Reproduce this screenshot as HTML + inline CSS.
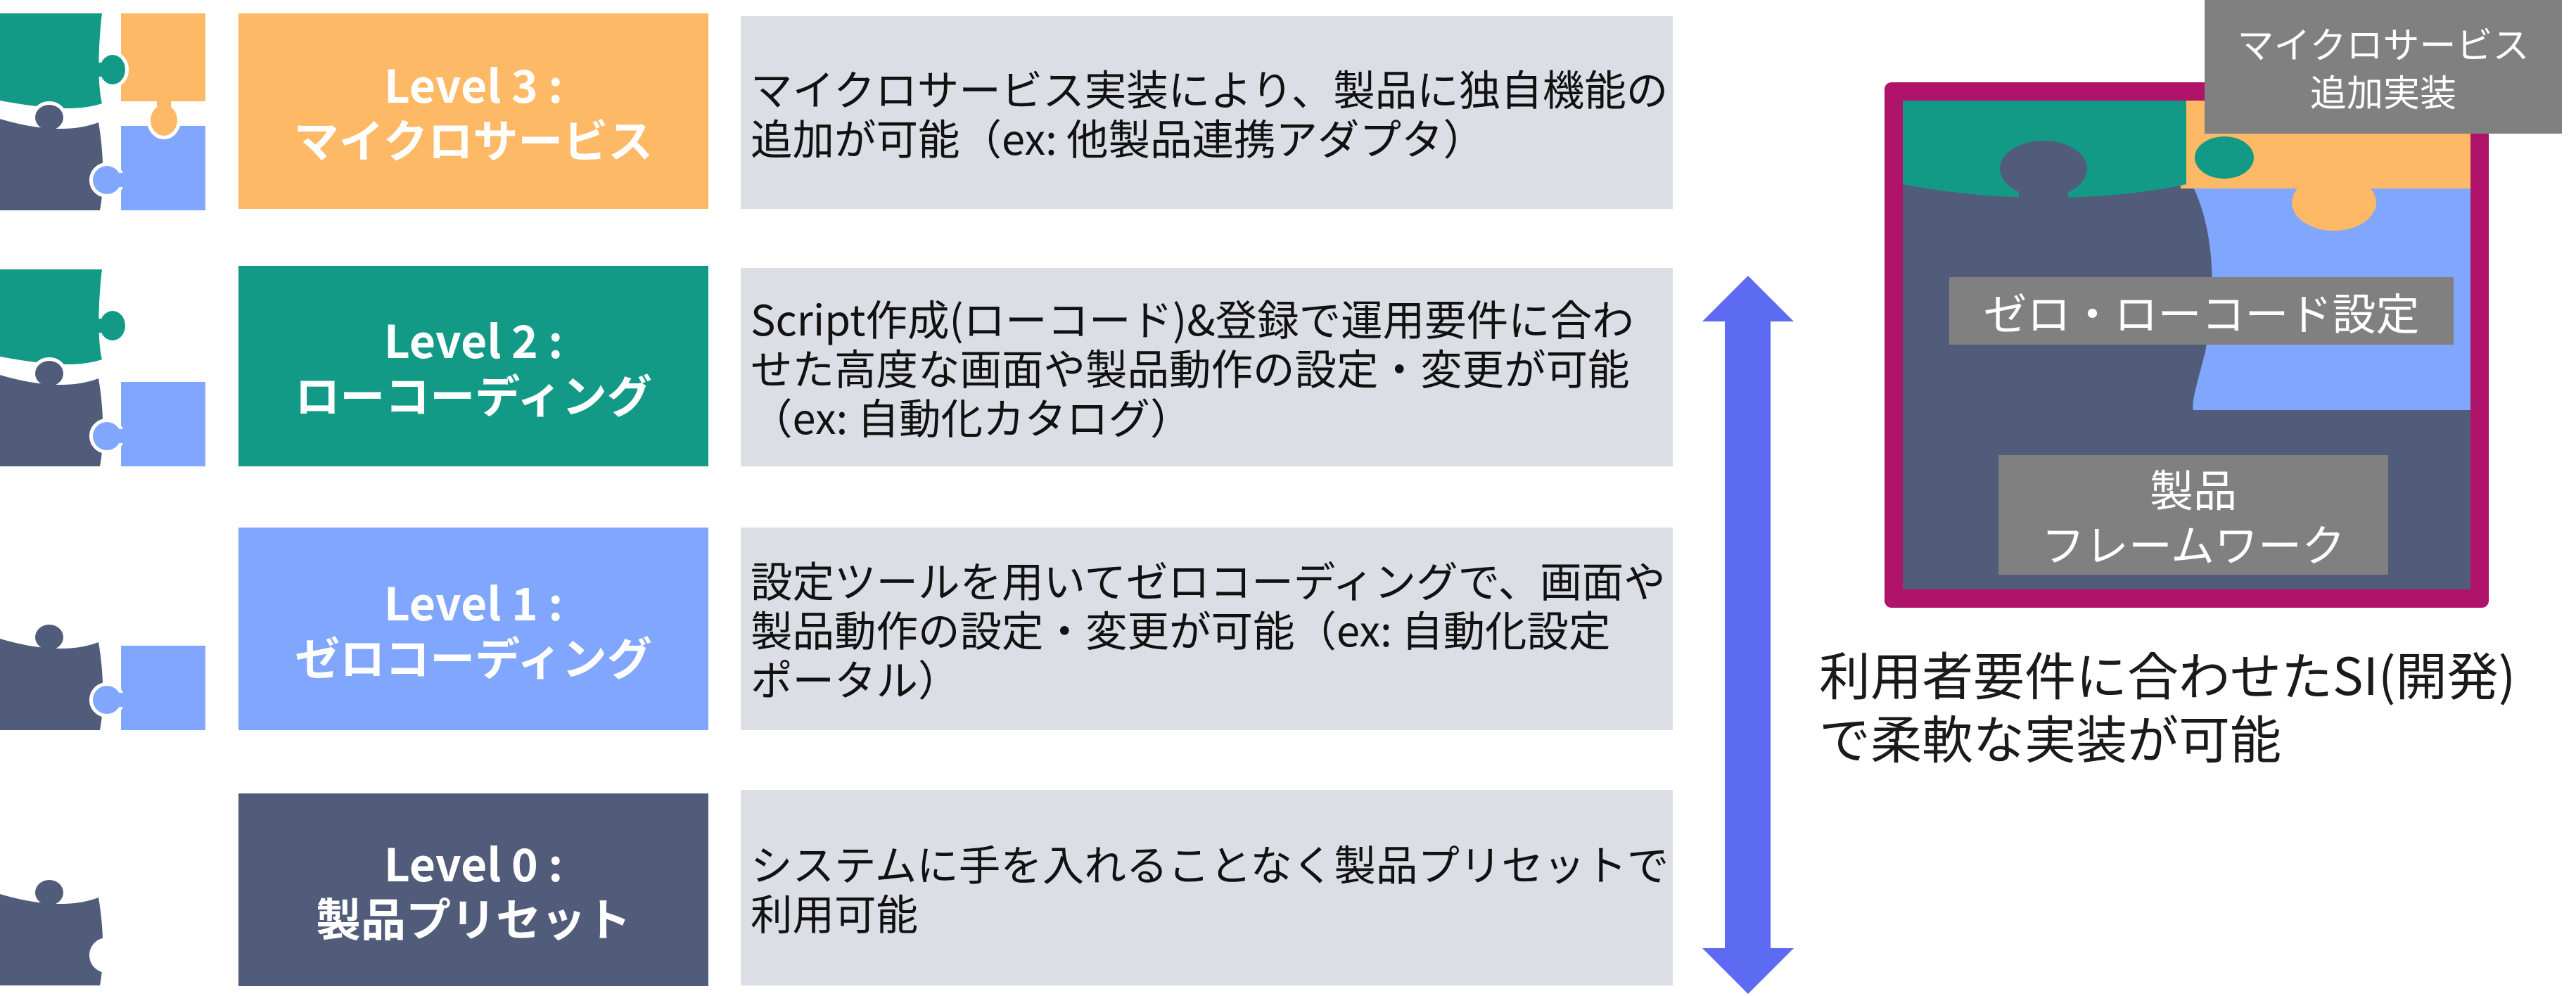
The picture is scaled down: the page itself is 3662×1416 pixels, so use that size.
<!DOCTYPE html>
<html><head><meta charset="utf-8"><style>
html,body{margin:0;padding:0;background:#fff}
body{width:3662px;height:1416px;position:relative;overflow:hidden;font-family:"Noto Sans CJK JP","Liberation Sans",sans-serif}
.lv{position:absolute;left:339px;width:668px;display:flex;align-items:center;justify-content:center;text-align:center;color:#fff;font-weight:bold;font-size:64px;line-height:78px}
.ds{position:absolute;left:1053px;width:1325px;background:#dcdee5;display:flex;align-items:center;box-sizing:border-box;padding-left:14px;font-size:59.5px;line-height:70px;color:#111;white-space:nowrap}
.lb{position:absolute;background:#808080;color:#fff;display:flex;align-items:center;justify-content:center;text-align:center}
</style></head><body>
<svg width="3662" height="1416" style="position:absolute;left:0;top:0">
<defs>
<g id="lav"><rect x="172" y="160" width="120" height="120" fill="#80a6fd" stroke="#fff" stroke-width="10"/><rect x="172" y="160" width="120" height="120" fill="#80a6fd"/></g>
<g id="lavk"><circle cx="152" cy="237" r="20" fill="#80a6fd" stroke="#fff" stroke-width="10"/><circle cx="152" cy="237" r="20" fill="#80a6fd"/><rect x="160" y="227" width="20" height="20" fill="#80a6fd"/></g>
<g id="hole"><circle cx="152" cy="237" r="25" fill="#fff"/><rect x="142" y="222" width="20" height="30" fill="#fff"/></g>
<g id="ora"><g stroke="#fff" stroke-width="10" fill="#fdb965"><rect x="172" y="0" width="120" height="125"/><ellipse cx="233" cy="152" rx="19" ry="22"/></g><rect x="172" y="0" width="120" height="125" fill="#fdb965"/><ellipse cx="233" cy="152" rx="19" ry="22" fill="#fdb965"/><rect x="223" y="118" width="20" height="20" fill="#fdb965"/></g>
<g id="tea"><g stroke="#fff" stroke-width="10" fill="#129a87"><path d="M0,0 H145 C140,40 138,100 145,128 C110,140 60,135 0,124 Z"/><ellipse cx="160" cy="80" rx="18" ry="21"/></g><path d="M0,0 H145 C140,40 138,100 145,128 C110,140 60,135 0,124 Z" fill="#129a87"/><ellipse cx="160" cy="80" rx="18" ry="21" fill="#129a87"/><rect x="136" y="70" width="20" height="20" fill="#129a87"/></g>
<g id="drk"><g stroke="#fff" stroke-width="10" fill="#515c7a"><path d="M0,150 C50,165 100,170 140,155 C148,200 148,250 142,280 H0 Z"/><ellipse cx="70" cy="148" rx="20" ry="18"/></g><path d="M0,150 C50,165 100,170 140,155 C148,200 148,250 142,280 H0 Z" fill="#515c7a"/><ellipse cx="70" cy="148" rx="20" ry="18" fill="#515c7a"/><rect x="60" y="150" width="20" height="15" fill="#515c7a"/></g>
<clipPath id="tc"><rect x="0" y="0" width="292" height="280"/></clipPath>
<clipPath id="ic"><rect x="2705" y="143" width="807" height="695"/></clipPath>
</defs>
<g transform="translate(0,19)" clip-path="url(#tc)"><use href="#lav"/><use href="#ora"/><use href="#tea"/><use href="#drk"/><use href="#lavk"/></g>
<g transform="translate(0,383)" clip-path="url(#tc)"><use href="#lav"/><use href="#tea"/><use href="#drk"/><use href="#lavk"/></g>
<g transform="translate(0,758)" clip-path="url(#tc)"><use href="#lav"/><use href="#drk"/><use href="#lavk"/></g>
<g transform="translate(0,1121)" clip-path="url(#tc)"><use href="#drk"/><use href="#hole"/></g>
<polygon points="2485,392 2550,457 2517,457 2517,1348 2550,1348 2485,1413 2420,1348 2452,1348 2452,457 2420,457" fill="#5d6bf3"/>
<rect x="2679" y="117" width="859" height="747" rx="10" fill="#b0136a"/>
<g clip-path="url(#ic)">
<rect x="2705" y="143" width="807" height="695" fill="#515c7a"/>
<path d="M3116,262 C3150,330 3150,420 3135,500 C3125,540 3115,570 3118,583 L3513,583 L3513,258 Z" fill="#80a6fd"/>
<rect x="3100" y="143" width="413" height="125" fill="#fdb965"/>
<ellipse cx="3318" cy="288" rx="60" ry="40" fill="#fdb965"/>
<path d="M2705,143 L3108,143 L3108,262 C3000,285 2850,290 2705,262 Z" fill="#129a87"/>
<ellipse cx="3162" cy="224" rx="42" ry="30" fill="#129a87"/>
<ellipse cx="2905" cy="240" rx="62" ry="40" fill="#515c7a"/>
<rect x="2870" y="250" width="70" height="40" fill="#515c7a"/>
</g>
</svg>
<div class="lv" style="top:19px;height:278px;background:#fdb965">Level 3 :<br>マイクロサービス</div>
<div class="lv" style="top:378px;height:285px;background:#129a87">Level 2 :<br>ローコーディング</div>
<div class="lv" style="top:750px;height:288px;background:#80a6fd">Level 1 :<br>ゼロコーディング</div>
<div class="lv" style="top:1128px;height:274px;background:#515c7a">Level 0 :<br>製品プリセット</div>
<div class="ds" style="top:23px;height:274px">マイクロサービス実装により、製品に独自機能の<br>追加が可能（ex: 他製品連携アダプタ）</div>
<div class="ds" style="top:381px;height:282px">Script作成(ローコード)&amp;登録で運用要件に合わ<br>せた高度な画面や製品動作の設定・変更が可能<br>（ex: 自動化カタログ）</div>
<div class="ds" style="top:750px;height:288px">設定ツールを用いてゼロコーディングで、画面や<br>製品動作の設定・変更が可能（ex: 自動化設定<br>ポータル）</div>
<div class="ds" style="top:1123px;height:278px">システムに手を入れることなく製品プリセットで<br>利用可能</div>
<div class="lb" style="left:3134px;top:0;width:508px;height:190px;font-size:52px;line-height:68px">マイクロサービス<br>追加実装</div>
<div class="lb" style="left:2771px;top:394px;width:717px;height:96px;font-size:62px">ゼロ・ローコード設定</div>
<div class="lb" style="left:2841px;top:647px;width:554px;height:170px;font-size:62px;line-height:78px">製品<br>フレームワーク</div>
<div style="position:absolute;left:2586px;top:912px;font-size:73px;line-height:90px;color:#1a1a1a;white-space:nowrap">利用者要件に合わせたSI(開発)<br>で柔軟な実装が可能</div>
</body></html>
